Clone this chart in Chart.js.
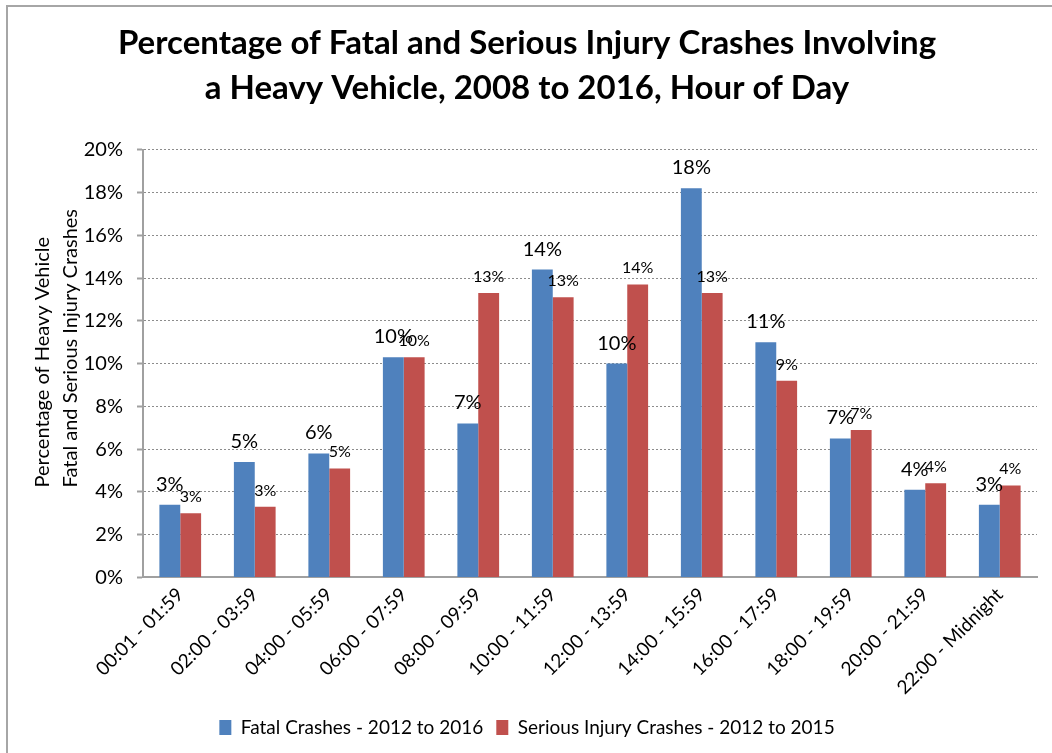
<!DOCTYPE html>
<html>
<head>
<meta charset="utf-8">
<script src="https://cdn.jsdelivr.net/npm/chart.js@4.4.1/dist/chart.umd.min.js"></script>
<style>
  html, body { margin: 0; padding: 0; background: #fff; overflow: hidden; }
  #frame { position: absolute; left: 6px; top: 5px; width: 1046px; height: 748px;
           border-top: 2px solid #a6a6a6; border-left: 2px solid #a6a6a6; }
  #wrap { position: absolute; left: 0; top: 0; width: 1052px; height: 753px; }
</style>
</head>
<body>
<div id="frame"></div>
<div id="wrap"><canvas id="chart"></canvas></div>
<script>
// ===== data =====
const hours = ["00:01 - 01:59", "02:00 - 03:59", "04:00 - 05:59", "06:00 - 07:59",
  "08:00 - 09:59", "10:00 - 11:59", "12:00 - 13:59", "14:00 - 15:59",
  "16:00 - 17:59", "18:00 - 19:59", "20:00 - 21:59", "22:00 - Midnight"];
const fatal = [3.4, 5.4, 5.8, 10.3, 7.2, 14.4, 10.0, 18.2, 11.0, 6.5, 4.1, 3.4];
const serious = [3.0, 3.3, 5.1, 10.3, 13.3, 13.1, 13.7, 13.3, 9.2, 6.9, 4.4, 4.3];
const seriesNames = ["Fatal Crashes - 2012 to 2016", "Serious Injury Crashes - 2012 to 2015"];
const yMax = 20;
const yStep = 2;

const FONT = "Lato";

// value labels on top of bars (blue ones are a bit bigger)
const labelStyle = [
  { font: "20px " + FONT, gap: 14 },
  { font: "16px " + FONT, gap: 11 },
];

const barLabels = {
  id: "barLabels",
  afterDatasetsDraw(chart) {
    const { ctx } = chart;
    chart.data.datasets.forEach((ds, i) => {
      const meta = chart.getDatasetMeta(i);
      ctx.save();
      ctx.font = labelStyle[i].font;
      ctx.fillStyle = "#000";
      ctx.textAlign = "center";
      ctx.textBaseline = "alphabetic";
      meta.data.forEach((bar, j) => {
        ctx.fillText(Math.round(ds.data[j]) + "%", bar.x, bar.y - labelStyle[i].gap);
      });
      ctx.restore();
    });
  },
};

// y axis title, two lines, aligned at the bottom like excel does
const yTitle = {
  id: "yTitle",
  afterDraw(chart) {
    const { ctx, chartArea } = chart;
    ctx.save();
    ctx.font = "20px " + FONT;
    ctx.fillStyle = "#000";
    ctx.textAlign = "left";
    ctx.translate(0, chartArea.bottom - 90);
    ctx.rotate(-Math.PI / 2);
    ctx.fillText("Percentage of Heavy Vehicle", 0, 43);
    ctx.fillText("Fatal and Serious Injury Crashes", 0, 71);
    ctx.restore();
  },
};

new Chart(document.getElementById("chart"), {
  type: "bar",
  data: {
    labels: hours,
    datasets: [
      { label: seriesNames[0], data: fatal, backgroundColor: "#4F81BD" },
      { label: seriesNames[1], data: serious, backgroundColor: "#C0504D" },
    ],
  },
  options: {
    responsive: true,
    maintainAspectRatio: false,
    animation: false,
    layout: { padding: { left: 17, right: 15, top: 0, bottom: 6 } },
    datasets: { bar: { categoryPercentage: 0.56, barPercentage: 1.0 } },
    scales: {
      x: {
        grid: { display: false, drawTicks: false },
        border: { display: true, color: "#a0a0a0", width: 2 },
        ticks: {
          color: "#000",
          font: { family: FONT, size: 19 },
          minRotation: 45,
          maxRotation: 45,
          padding: 6,
          autoSkip: false,
        },
      },
      y: {
        min: 0,
        max: yMax,
        grid: { color: "#8c8c8c", tickLength: 6, tickColor: "#a0a0a0", tickBorderDash: [], tickWidth: 2 },
        border: { display: true, color: "#a0a0a0", width: 2, dash: [2, 2] },
        ticks: {
          stepSize: yStep,
          color: "#000",
          font: { family: FONT, size: 20 },
          padding: 14,
          callback: (v) => v + "%",
        },
        afterFit: (scale) => { scale.width = 126; },
      },
    },
    plugins: {
      title: {
        display: true,
        text: ["Percentage of Fatal and Serious Injury Crashes Involving",
               "a Heavy Vehicle, 2008 to 2016, Hour of Day"],
        color: "#000",
        font: { family: FONT, size: 33, weight: "bold", lineHeight: 1.36 },
        padding: { top: 21, bottom: 39 },
      },
      legend: {
        position: "bottom",
        labels: {
          color: "#000",
          font: { family: FONT, size: 19 },
          boxWidth: 12,
          boxHeight: 15,
          padding: 13,
        },
      },
      tooltip: { enabled: false },
    },
  },
  plugins: [barLabels, yTitle],
});
</script>
</body>
</html>
